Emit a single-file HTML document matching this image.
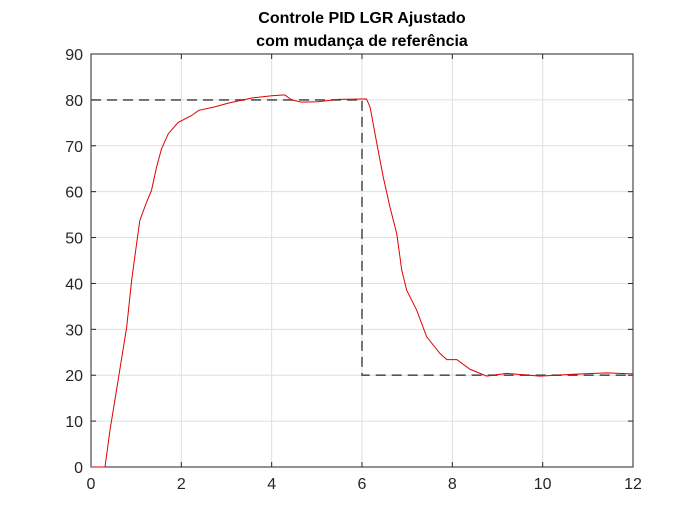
<!DOCTYPE html>
<html><head><meta charset="utf-8"><style>
body{margin:0;background:#fff;}
svg text{font-family:"Liberation Sans",sans-serif;}
</style></head><body>
<svg width="700" height="525" xmlns="http://www.w3.org/2000/svg">
<rect width="700" height="525" fill="#fff"/>
<g id="grid"></g>
<g id="axes"></g>
<g id="series"></g>
<text x="362" y="23" text-anchor="middle" font-size="16" font-weight="bold" fill="#000">Controle PID LGR Ajustado</text>
<text x="362" y="46" text-anchor="middle" font-size="16" font-weight="bold" fill="#000">com mudança de referência</text>
</svg>
<script>
const xTicks=[0,2,4,6,8,10,12];
const yTicks=[0,10,20,30,40,50,60,70,80,90];
const refT=[0,6,6,12];
const refY=[80,80,20,20];
const respT=[0,0.31,0.42,0.60,0.79,0.90,1.01,1.08,1.23,1.34,1.45,1.56,1.71,1.93,2.23,2.38,2.75,3.04,3.56,4.0,4.29,4.44,4.66,5.02,5.47,6.0,6.1,6.18,6.33,6.47,6.62,6.77,6.88,6.99,7.21,7.43,7.73,7.88,8.10,8.39,8.76,9.20,9.94,10.68,11.42,11.97,12];
const respY=[0,0,8.0,18.9,30.5,40.7,48.7,53.7,57.7,60.3,65.3,69.3,72.6,75.1,76.6,77.7,78.5,79.3,80.4,80.9,81.1,80.0,79.5,79.6,80.1,80.2,80.2,78.4,70.4,63.2,56.6,50.8,42.9,38.5,34.2,28.4,24.7,23.4,23.4,21.3,19.8,20.4,19.8,20.2,20.5,20.3,20.3];
const L=91,R=633,T=54,B=467;
const sx=v=>L+(v-0)/(12-0)*(R-L);
const sy=v=>B-(v-0)/(90-0)*(B-T);
const NS="http://www.w3.org/2000/svg";
function mk(tag,attrs,parent){const e=document.createElementNS(NS,tag);for(const k in attrs)e.setAttribute(k,attrs[k]);parent.appendChild(e);return e;}
const grid=document.getElementById('grid'),axes=document.getElementById('axes'),series=document.getElementById('series');
xTicks.forEach(t=>{
 const g=mk('line',{x1:sx(t),x2:sx(t),y1:T,y2:B,stroke:'#dfdfdf','stroke-width':1},grid);
 
 
 const tk=mk('line',{x1:sx(t),x2:sx(t),y1:B,y2:B-5,stroke:'#262626'},axes);
 
 
 const tk2=mk('line',{x1:sx(t),x2:sx(t),y1:T,y2:T+5,stroke:'#262626'},axes);
 
 
 const tx=mk('text',{x:sx(t),y:B+22,'text-anchor':'middle','font-size':16,fill:'#262626'},axes);
 tx.textContent=t;
 
 
});
yTicks.forEach(v=>{
 const g=mk('line',{x1:L,x2:R,y1:sy(v),y2:sy(v),stroke:'#dfdfdf','stroke-width':1},grid);
 
 
 const tk=mk('line',{x1:L,x2:L+5,y1:sy(v),y2:sy(v),stroke:'#262626'},axes);
 
 
 const tk2=mk('line',{x1:R,x2:R-5,y1:sy(v),y2:sy(v),stroke:'#262626'},axes);
 
 
 const tx=mk('text',{x:L-8,y:sy(v)+6,'text-anchor':'end','font-size':16,fill:'#262626'},axes);
 tx.textContent=v;
 
 
});
const box=mk('rect',{x:L,y:T,width:R-L,height:B-T,fill:'none',stroke:'#262626','stroke-width':1},axes);


const ref=mk('polyline',{points:refT.map((t,i)=>sx(t)+','+sy(refY[i])).join(' '),fill:'none',stroke:'#555','stroke-width':1.6,'stroke-dasharray':'10,6'},series);


const resp=mk('polyline',{points:respT.map((t,i)=>sx(t)+','+sy(respY[i])).join(' '),fill:'none',stroke:'#e00000','stroke-width':1},series);


</script>
</body></html>
